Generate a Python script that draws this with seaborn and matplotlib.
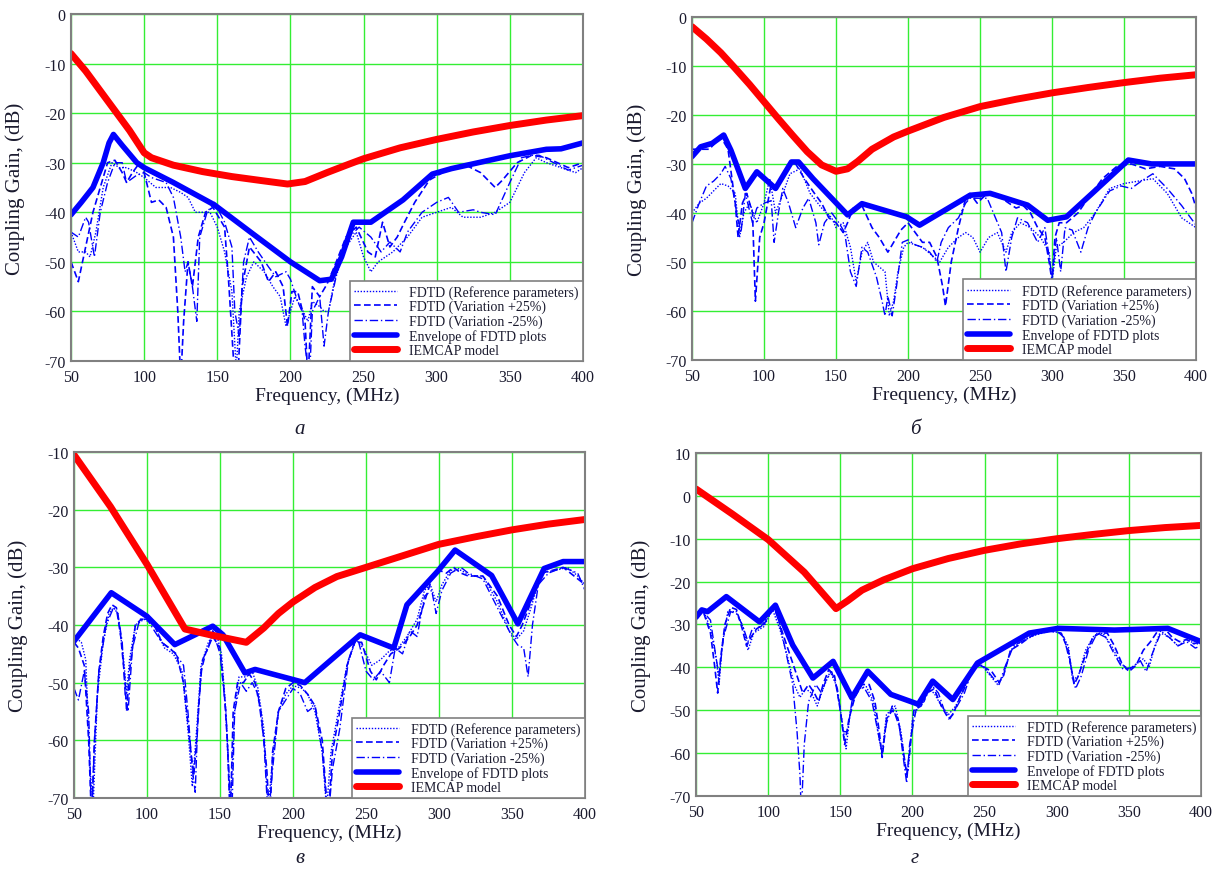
import matplotlib
matplotlib.use("Agg")
import matplotlib.pyplot as plt
import seaborn as sns

# ---------------- Panel a ----------------
a_ref_f  = [50, 55, 60, 63, 67, 72, 78, 83, 88, 95, 100, 108, 118, 125, 130, 135, 140, 145, 150, 155, 160, 163, 165, 170, 175, 182, 188, 193, 197, 200, 203, 207, 212, 215, 220, 223, 226, 230, 238, 245, 250, 255, 260, 265, 270, 280, 290, 300, 310, 318, 330, 340, 350, 360, 368, 375, 385, 395, 400]
a_ref_db = [-44, -48, -48, -49, -44, -35, -30, -31, -31, -32, -33, -35, -35, -36, -37, -40, -40, -40, -43, -48, -56, -72, -60, -53, -50, -52, -55, -57, -63, -60, -57, -59, -62, -58, -59, -60, -60, -54, -47, -44, -49, -52, -50, -49, -48, -45, -41, -40, -39, -41, -41, -40, -38, -32, -29, -30, -31, -32, -31]
a_p25_f  = [50, 55, 60, 65, 70, 75, 80, 85, 88, 92, 97, 100, 105, 110, 115, 120, 123, 125, 127, 130, 133, 137, 142, 147, 155, 158, 162, 164, 167, 172, 180, 185, 190, 195, 198, 201, 205, 210, 212, 215, 220, 225, 230, 238, 245, 253, 258, 263, 268, 273, 278, 285, 295, 310, 320, 330, 340, 345, 355, 365, 375, 390, 400]
a_p25_db = [-50, -54, -47, -40, -35, -30, -29.5, -32, -34, -32, -30, -32, -38, -37.5, -39, -45, -60, -74, -62, -50, -55, -45, -40, -39, -43, -55, -74, -74, -55, -47, -50, -54, -52, -55, -63, -56, -56, -62, -74, -55, -57, -54.5, -51, -45, -43, -48, -49, -42, -47, -45, -42, -38, -33.5, -31, -30.5, -32, -35, -33.5, -30, -28.5, -29, -31, -30]
a_m25_f  = [50, 55, 60, 62, 66, 70, 75, 80, 85, 88, 95, 100, 105, 115, 120, 125, 128, 130, 133, 136, 138, 143, 148, 155, 160, 162, 165, 168, 172, 178, 185, 190, 197, 200, 205, 208, 210, 213, 215, 220, 223, 226, 232, 240, 247, 255, 262, 268, 275, 280, 290, 300, 308, 315, 325, 330, 340, 350, 358, 365, 370, 380, 390, 400]
a_m25_db = [-44, -45, -41, -42, -49, -40, -34, -30, -30, -34, -32.5, -32, -33, -34, -37, -45, -52, -50, -55, -62, -45, -40, -38, -42, -47, -60, -65, -50, -45, -48, -51, -53, -52, -53.5, -58, -60, -67, -74, -60, -57, -67, -60, -52, -45, -43, -45, -48, -46, -48, -44, -40, -38, -37, -40, -39.5, -40, -40.5, -34, -29, -28.5, -28.5, -30, -31.5, -30.5]
a_env_f  = [50, 57, 65, 72, 76, 79, 85, 95, 100, 120, 148, 175, 200, 220, 228, 235, 243, 255, 277, 297, 310, 350, 375, 385, 400]
a_env_db = [-40.5, -38, -35, -30, -26, -24.3, -26.5, -30, -31, -34, -38.5, -44.5, -50, -53.8, -53.5, -49, -42, -42, -37.5, -32.3, -31.2, -28.6, -27.3, -27.2, -26]
a_iem_f  = [50, 60, 70, 80, 90, 100, 105, 120, 140, 160, 180, 198, 210, 225, 240, 250, 275, 300, 325, 350, 375, 400]
a_iem_db = [-8, -11.5, -15.5, -19.5, -23.5, -28, -29, -30.5, -31.8, -32.8, -33.6, -34.3, -33.8, -32, -30.3, -29.2, -27, -25.3, -23.8, -22.5, -21.4, -20.5]

# ---------------- Panel b ----------------
b_ref_f  = [50, 55, 60, 65, 70, 75, 80, 83, 86, 90, 95, 100, 104, 108, 112, 118, 125, 132, 140, 147, 150, 155, 160, 164, 168, 172, 176, 180, 184, 187, 190, 193, 197, 200, 210, 218, 222, 228, 235, 240, 245, 250, 256, 262, 268, 272, 278, 285, 292, 298, 300, 303, 308, 315, 322, 330, 340, 350, 360, 370, 380, 390, 400]
b_ref_db = [-40, -38, -37, -35.5, -34, -34.5, -36, -45, -40, -38, -42, -38, -33, -40, -37, -32, -31, -36, -39, -41, -43, -42, -47, -54, -48, -46, -50, -51, -52, -61, -58, -52, -47, -46, -47, -49, -50, -47, -45, -44, -45, -48, -45, -44, -48, -44, -42, -43, -45, -48, -54, -47, -46, -44, -43, -40, -35, -34, -33.5, -33, -36, -41, -43]
b_p25_f  = [50, 55, 62, 70, 75, 80, 82, 85, 88, 92, 94, 97, 100, 105, 108, 112, 118, 122, 128, 135, 140, 145, 150, 155, 158, 162, 168, 175, 180, 186, 190, 195, 200, 205, 210, 215, 220, 224, 226, 230, 235, 240, 243, 248, 255, 265, 270, 275, 280, 285, 290, 295, 298, 300, 302, 305, 310, 318, 325, 335, 345, 355, 365, 375, 385, 392, 397, 400]
b_p25_db = [-27, -27, -27, -24.5, -27, -38, -45, -38, -36, -40, -58, -45, -42, -34, -35, -33, -30, -30, -33, -36, -38, -41, -42, -44, -42, -39, -38.5, -43, -45, -48, -46, -43.5, -42, -44, -46, -46, -49, -55, -59, -50, -43, -37, -36, -38, -36, -37, -38, -39, -38.5, -40, -43, -45, -50, -54, -45, -42, -42, -40, -37, -33, -30.5, -30, -31, -30.5, -31, -33, -36, -39]
b_m25_f  = [50, 55, 60, 65, 70, 73, 77, 81, 84, 87, 92, 95, 100, 105, 107, 110, 113, 117, 122, 127, 131, 136, 138, 142, 147, 152, 156, 160, 164, 168, 172, 178, 182, 184, 186, 189, 192, 196, 200, 205, 210, 215, 220, 223, 228, 235, 240, 243, 248, 255, 265, 268, 272, 276, 283, 290, 295, 300, 303, 306, 309, 314, 320, 325, 330, 340, 348, 355, 362, 370, 380, 390, 400]
b_m25_db = [-42, -38, -34.5, -33.5, -32, -30.5, -33, -40, -44, -36, -42, -39, -38, -37.5, -46, -40, -35, -38, -43, -39, -37, -42, -46.5, -42, -40, -42, -44, -52, -55, -47, -48, -53, -58, -61, -57, -61, -55, -46, -45.5, -46.5, -47, -48, -50, -46, -43, -41, -38, -37, -37, -37, -44, -52, -45, -41, -42, -46, -43, -53, -45, -52, -43, -43.5, -48, -43, -40, -35.5, -34.5, -35, -33.5, -32, -35, -38.5, -42.5]
b_env_f  = [50, 56, 64, 72, 77, 87, 95, 108, 119, 124, 134, 158, 168, 199, 208, 243, 257, 283, 297, 310, 329, 353, 369, 400]
b_env_db = [-28.5, -26.5, -25.8, -24.1, -27.2, -35, -31.6, -35, -29.6, -29.6, -33, -40.4, -38.1, -40.8, -42.5, -36.4, -36, -38.4, -41.5, -40.8, -35.7, -29.2, -30, -30]
b_iem_f  = [50, 60, 70, 80, 90, 100, 110, 120, 130, 140, 150, 158, 165, 175, 190, 200, 225, 250, 275, 300, 325, 350, 375, 400]
b_iem_db = [-2, -4.5, -7.3, -10.5, -13.8, -17.3, -20.8, -24.2, -27.5, -30.2, -31.5, -31, -29.5, -27, -24.5, -23.3, -20.5, -18.3, -16.8, -15.5, -14.4, -13.4, -12.5, -11.8]

# ---------------- Panel c ----------------
c_ref_f  = [50, 55, 58, 61, 63, 66, 70, 74, 77, 80, 84, 86, 88, 92, 98, 105, 112, 118, 124, 128, 131, 134, 137, 142, 147, 151, 154, 157, 160, 163, 168, 172, 176, 180, 183, 186, 190, 195, 200, 206, 210, 215, 220, 223, 226, 231, 237, 243, 248, 254, 260, 266, 272, 278, 285, 290, 294, 298, 302, 308, 315, 322, 330, 340, 348, 353, 358, 363, 370, 380, 388, 395, 400]
c_ref_db = [-42, -43, -46, -65, -72, -52, -43, -38, -37, -38, -46, -52, -46, -40, -39, -40, -44, -45, -48, -58, -68, -58, -47, -43, -41, -45, -55, -72, -55, -49, -49, -48, -51, -58, -72, -63, -55, -52, -50.5, -51, -52, -55, -62, -72, -62, -55, -47, -42.5, -44, -47, -46, -44.5, -44, -42, -39, -34, -33, -36, -33, -30.5, -30.5, -31.5, -31.5, -36, -41, -42.5, -41, -37, -31, -30.5, -30, -31.5, -33]
c_p25_f  = [50, 53, 57, 60, 62, 64, 67, 70, 73, 76, 79, 82, 85, 86, 88, 92, 96, 100, 105, 110, 115, 120, 125, 128, 130, 132, 134, 137, 140, 145, 150, 153, 155, 157, 159, 162, 166, 170, 174, 178, 182, 184, 186, 190, 195, 200, 205, 210, 215, 220, 224, 227, 232, 237, 242, 247, 253, 257, 262, 267, 273, 280, 285, 290, 295, 300, 305, 310, 315, 320, 330, 340, 348, 353, 357, 363, 370, 378, 385, 390, 395, 400]
c_p25_db = [-43, -44, -47, -60, -74, -60, -48, -42, -38, -36.5, -37, -42, -50, -55, -48, -40, -39, -39, -40, -43, -44, -45, -50, -57, -62, -66, -60, -48, -45, -42, -44, -52, -60, -74, -55, -50, -50, -48.5, -50, -55, -65, -74, -62, -55, -51, -50, -50.5, -52, -54, -60, -74, -62, -55, -47, -43, -43, -48, -49.5, -47, -45, -44, -42, -40, -36, -32, -30.5, -31, -30, -31, -31.5, -31.5, -35, -40, -42, -40, -36, -31, -30.5, -30, -31, -32, -33]
c_m25_f  = [50, 53, 57, 60, 62, 64, 67, 72, 77, 80, 83, 85, 87, 90, 95, 100, 110, 118, 125, 128, 131, 133, 135, 138, 142, 145, 150, 154, 156, 158, 160, 164, 168, 172, 176, 180, 183, 186, 190, 195, 200, 205, 210, 215, 220, 224, 227, 232, 238, 244, 250, 255, 260, 266, 270, 275, 280, 285, 290, 295, 298, 302, 308, 315, 320, 330, 340, 350, 354, 358, 361, 364, 368, 375, 385, 390, 395, 400]
c_m25_db = [-51, -53, -48, -55, -74, -60, -48, -40, -37, -38, -43, -52, -55, -44, -39, -39, -43, -44.5, -47, -55, -65, -69, -55, -46, -44, -41, -45, -55, -65, -74, -55, -50, -51.5, -50, -52, -60, -74, -65, -55, -53, -51, -52, -55, -54, -62, -74, -65, -58, -46, -42, -48, -49.5, -48, -50, -44, -45, -41, -42, -35, -34, -38, -34, -31, -30, -31, -32, -37, -42, -43.5, -44, -49, -40, -33, -31, -30, -30.5, -31, -34]
c_env_f  = [50, 75.5, 100, 119, 145, 152, 167, 174, 208, 246, 269, 278, 299, 311, 336, 354, 372, 385, 400]
c_env_db = [-42.8, -34.4, -38.5, -43.4, -40.2, -41.7, -48.3, -47.7, -50, -41.7, -44, -36.5, -30.7, -27, -31.4, -39.8, -30.2, -29, -29]
c_iem_f  = [50, 75, 100, 126, 145, 168, 180, 190, 200, 215, 230, 250, 275, 300, 325, 350, 375, 400]
c_iem_db = [-10.5, -19.5, -29.5, -40.7, -41.8, -43, -40.5, -38, -36, -33.5, -31.6, -30, -28, -26, -24.7, -23.5, -22.5, -21.7]

# ---------------- Panel d ----------------
d_ref_f  = [50, 55, 60, 64, 66, 68, 72, 78, 83, 86, 90, 97, 103, 108, 113, 118, 122, 126, 130, 134, 138, 143, 147, 151, 154, 157, 162, 168, 173, 177, 179, 182, 188, 192, 195, 197, 200, 205, 210, 215, 220, 225, 230, 237, 243, 248, 254, 259, 263, 268, 275, 285, 295, 303, 308, 311, 315, 320, 326, 332, 338, 344, 350, 356, 360, 364, 368, 372, 378, 384, 390, 396, 400]
d_ref_db = [-28, -26.5, -31, -38, -44, -35, -27, -27, -31, -36, -32, -30.5, -26.5, -31, -37, -44, -47, -45, -46, -49, -45, -41, -44, -52, -59, -50, -45, -44.5, -48, -57, -60, -51, -49, -55, -63, -64, -52, -48.5, -45, -46, -49, -51, -49, -44, -40, -39.5, -42, -44, -42, -36, -34, -32.5, -31.5, -32, -35, -43, -42, -36, -32.5, -32, -35, -39, -40.5, -39, -38, -40, -35, -31.5, -33, -35, -33.5, -34.5, -34.5]
d_p25_f  = [50, 55, 60, 63, 65, 67, 70, 74, 78, 82, 85, 88, 92, 97, 102, 105, 110, 115, 120, 124, 128, 132, 135, 138, 142, 146, 150, 153, 156, 160, 165, 170, 174, 177, 179, 182, 186, 190, 193, 196, 198, 201, 206, 210, 215, 220, 225, 228, 233, 240, 245, 250, 255, 260, 263, 268, 275, 285, 295, 303, 308, 312, 315, 320, 325, 330, 335, 340, 345, 350, 355, 360, 365, 370, 375, 380, 385, 390, 395, 400]
d_p25_db = [-28, -27, -32, -40, -46, -38, -30, -26, -26.5, -31, -35, -33, -31, -30, -27, -26.5, -32, -37, -42, -46, -44, -46, -48, -44, -40.5, -42, -50, -58, -52, -47, -44, -44, -48, -55, -61, -52, -50, -52, -58, -65, -60, -50, -49, -46, -45, -49, -52, -51, -47, -42, -39, -40, -41, -43.5, -42, -36, -34.5, -32, -31.5, -32, -36, -44, -42, -37, -33, -32, -32, -35, -39, -41, -39.5, -36, -34, -31.5, -31, -33, -34, -33.5, -34.5, -34]
d_m25_f  = [50, 55, 60, 64, 66, 69, 74, 78, 82, 86, 89, 95, 100, 104, 108, 112, 117, 120, 122, 123, 125, 128, 133, 137, 140, 144, 148, 152, 155, 158, 163, 167, 172, 176, 179, 182, 186, 191, 194, 196, 198, 203, 208, 213, 218, 222, 226, 231, 236, 241, 246, 250, 256, 260, 264, 270, 278, 290, 300, 305, 310, 313, 317, 322, 328, 334, 340, 346, 352, 358, 362, 366, 372, 378, 384, 390, 396, 400]
d_m25_db = [-28.5, -27, -29, -38, -42, -33, -27, -27.5, -30, -34, -31, -30.5, -28, -26, -30, -36, -44, -55, -65, -74, -58, -48, -44, -46, -43, -41, -45, -55, -55, -48, -44.5, -45, -48, -55, -60, -53, -49, -54, -62, -67, -58, -49, -48, -44, -46, -50, -52, -49, -46, -41, -39.5, -40, -42.5, -44, -40, -35, -33.5, -31.5, -31.5, -33, -40, -45, -42, -36, -32, -33, -37, -40.5, -40, -38.5, -41, -37, -32, -33, -35, -34, -35.5, -35]
d_env_f  = [50, 54, 58, 71, 94, 105, 117, 131, 145, 158, 169, 185, 204, 214, 228, 245, 281, 301, 340, 377, 400]
d_env_db = [-28.3, -26.6, -27, -23.5, -29.4, -25.5, -34.8, -42.5, -38.6, -47.1, -40.9, -46.3, -48.6, -43.2, -47.5, -39, -32, -30.9, -31.3, -30.9, -34]
d_iem_f  = [50, 75, 100, 125, 147, 155, 165, 180, 200, 225, 250, 275, 300, 325, 350, 375, 400]
d_iem_db = [1.6, -4.2, -10.2, -17.8, -26.3, -24.5, -22, -19.6, -17, -14.6, -12.7, -11.2, -10, -9, -8.1, -7.4, -6.9]

x_ticks = [50, 100, 150, 200, 250, 300, 350, 400]
legend_labels = ["FDTD (Reference parameters)", "FDTD (Variation +25%)",
                 "FDTD (Variation -25%)", "Envelope of FDTD plots", "IEMCAP model"]
captions = ["а", "б", "в", "г"]

panels = [
    dict(ref=(a_ref_f, a_ref_db), p25=(a_p25_f, a_p25_db), m25=(a_m25_f, a_m25_db),
         env=(a_env_f, a_env_db), iem=(a_iem_f, a_iem_db), ylim=(-70, 0),
         rect=[0.0584, 0.5839, 0.4210, 0.3989], cap=(300, 430)),
    dict(ref=(b_ref_f, b_ref_db), p25=(b_p25_f, b_p25_db), m25=(b_m25_f, b_m25_db),
         env=(b_env_f, b_env_db), iem=(b_iem_f, b_iem_db), ylim=(-70, 0),
         rect=[0.5691, 0.5851, 0.4145, 0.3943], cap=(915, 430)),
    dict(ref=(c_ref_f, c_ref_db), p25=(c_p25_f, c_p25_db), m25=(c_m25_f, c_m25_db),
         env=(c_env_f, c_env_db), iem=(c_iem_f, c_iem_db), ylim=(-70, -10),
         rect=[0.0609, 0.0816, 0.4202, 0.3977], cap=(300, 859)),
    dict(ref=(d_ref_f, d_ref_db), p25=(d_p25_f, d_p25_db), m25=(d_m25_f, d_m25_db),
         env=(d_env_f, d_env_db), iem=(d_iem_f, d_iem_db), ylim=(-70, 10),
         rect=[0.5724, 0.0839, 0.4153, 0.3943], cap=(915, 859)),
]

sns.set_style("white")
plt.rcParams['font.family'] = ['Liberation Serif', 'DejaVu Serif']
plt.rcParams['axes.unicode_minus'] = False

fig = plt.figure(figsize=(12.16, 8.70), dpi=100)
blue = "#0000ff"
red = "#ff0000"
grid_c = "#33ee33"
frame_c = "#808080"
txt_c = "#1a1a2e"

for i, p in enumerate(panels):
    ax = fig.add_axes(p["rect"])
    sns.lineplot(x=p["ref"][0], y=p["ref"][1], ax=ax, color=blue, lw=1.0,
                 linestyle=(0, (1, 1.2)), label=legend_labels[0])
    sns.lineplot(x=p["p25"][0], y=p["p25"][1], ax=ax, color=blue, lw=1.2,
                 linestyle=(0, (4, 2)), label=legend_labels[1])
    sns.lineplot(x=p["m25"][0], y=p["m25"][1], ax=ax, color=blue, lw=1.0,
                 linestyle=(0, (6, 2, 1, 2)), label=legend_labels[2])
    sns.lineplot(x=p["env"][0], y=p["env"][1], ax=ax, color=blue, lw=4.0,
                 label=legend_labels[3])
    sns.lineplot(x=p["iem"][0], y=p["iem"][1], ax=ax, color=red, lw=5.0,
                 label=legend_labels[4])
    ax.set_xlim(50, 400)
    ax.set_ylim(*p["ylim"])
    ax.set_xticks(x_ticks)
    ax.set_yticks(list(range(p["ylim"][0], p["ylim"][1] + 1, 10)))
    ax.grid(True, color=grid_c, lw=1.0)
    ax.set_axisbelow(True)
    for s in ax.spines.values():
        s.set_color(frame_c)
        s.set_linewidth(1.5)
    ax.tick_params(axis="x", length=0, labelsize=11.5, colors=txt_c, pad=6)
    ax.tick_params(axis="y", length=0, labelsize=11.5, colors=txt_c, pad=4)
    ax.set_xlabel("Frequency, (MHz)", fontsize=14, color=txt_c, labelpad=1)
    ax.set_ylabel("Coupling Gain, (dB)", fontsize=15, color=txt_c)
    ax.yaxis.set_label_coords(-0.09, 0.5)
    leg = ax.legend(loc="lower right", fontsize=10, frameon=True, fancybox=False,
                    borderaxespad=0, handlelength=3.1, handletextpad=0.9,
                    labelspacing=0.08, borderpad=0.3, framealpha=1)
    leg.get_frame().set_edgecolor(frame_c)
    leg.get_frame().set_linewidth(1.2)
    for t in leg.get_texts():
        t.set_color(txt_c)
    fig.text(p["cap"][0] / 1216, 1 - p["cap"][1] / 870, captions[i], fontsize=15,
             style="italic", ha="center", va="center", color=txt_c)

fig.savefig("out.png", dpi=100)
